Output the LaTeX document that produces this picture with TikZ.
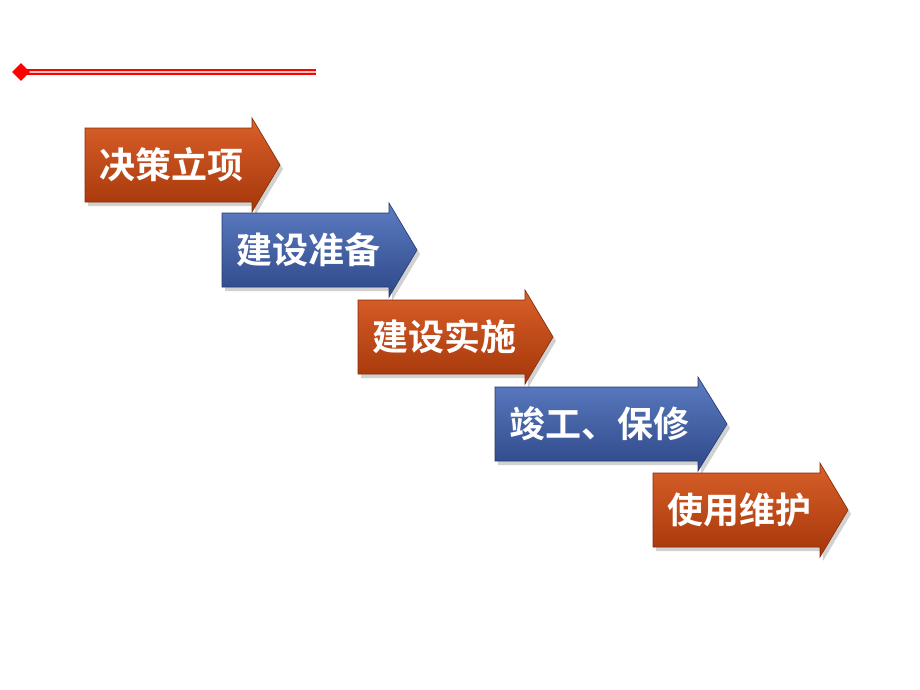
\documentclass[tikz,border=0pt]{standalone}
\usepackage{fontspec}
\newfontfamily\cjk{Noto Sans CJK SC Bold}
\usetikzlibrary{shapes.geometric}
\definecolor{rtop}{HTML}{D9602A}
\definecolor{rmid}{HTML}{C2470F}
\definecolor{rbot}{HTML}{A5360A}
\definecolor{btop}{HTML}{5C7CC2}
\definecolor{bmid}{HTML}{4262A6}
\definecolor{bbot}{HTML}{2E4888}
\definecolor{lred}{HTML}{FF0000}
\tikzset{
  steplabel/.style={text=white,font=\cjk\fontsize{36}{36}\selectfont,inner sep=0pt,anchor=center},
  redfill/.style={top color=rtop,middle color=rmid,bottom color=rbot,draw=rbot!80!black,line width=0.6pt},
  bluefill/.style={top color=btop,middle color=bmid,bottom color=bbot,draw=bbot!80!black,line width=0.6pt},
  shadowfill/.style={fill=black,opacity=0.18},
}
% #1 left, #2 head start, #3 tip, #4 centre y, #5 style, #6 name, #7 text
\newcommand\stepArrow[7]{%
  \fill[shadowfill] (#1+3,#4-37+4) -- (#2+3,#4-37+4) -- (#2+3,#4-47+4) -- (#3+3,#4+4) -- (#2+3,#4+47+4) -- (#2+3,#4+37+4) -- (#1+3,#4+37+4) -- cycle;
  \path[#5] (#1,#4-37) -- (#2,#4-37) -- (#2,#4-47) -- (#3,#4) -- (#2,#4+47) -- (#2,#4+37) -- (#1,#4+37) -- cycle;
  \node[steplabel] (#6) at ({(#1+#2)/2+3},#4) {#7};
}
\begin{document}
\begin{tikzpicture}[x=1pt,y=-1pt]
\useasboundingbox (0,0) rectangle (920,690);
\fill[white] (0,0) rectangle (920,690);
% top decoration
\fill[red!25] (22,69.5) rectangle (316,74.5);
\draw[lred,line width=1.2pt] (22,70) -- (316,70);
\draw[lred,line width=1.2pt] (22,74) -- (316,74);
\node[diamond,fill=lred,minimum width=18pt,minimum height=18pt,inner sep=0pt] (dia) at (21,72) {};
% arrows
\stepArrow{85}{252}{280}{165}{redfill}{s1}{决策立项}
\stepArrow{222}{389}{417}{250}{bluefill}{s2}{建设准备}
\stepArrow{358}{525}{553}{337}{redfill}{s3}{建设实施}
\stepArrow{495}{698}{727}{424}{bluefill}{s4}{竣工、保修}
\stepArrow{653}{820}{848}{510}{redfill}{s5}{使用维护}
\end{tikzpicture}
\end{document}
